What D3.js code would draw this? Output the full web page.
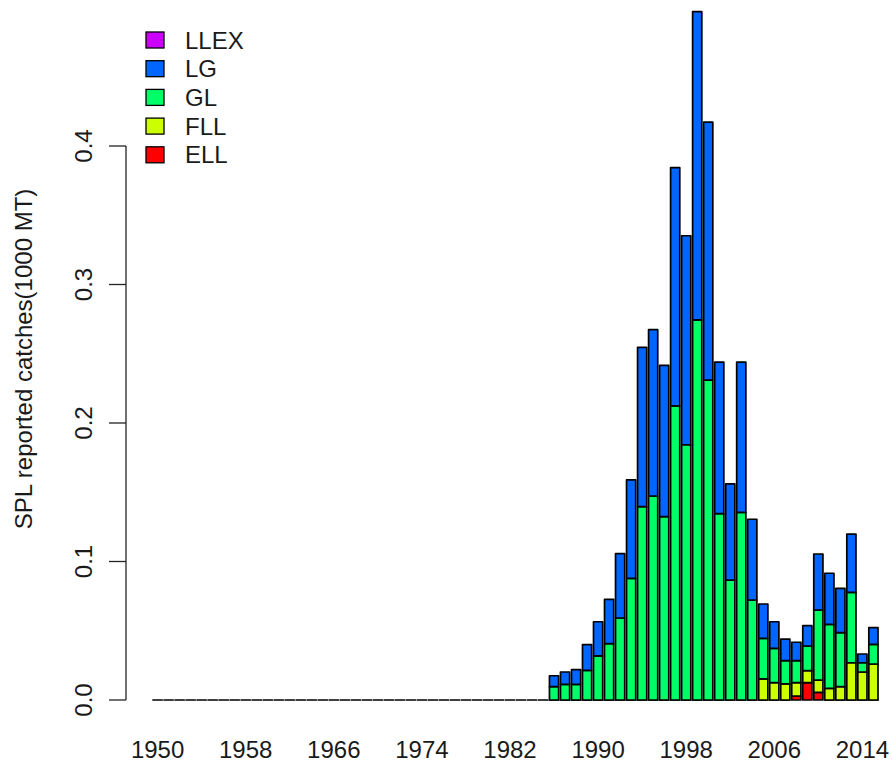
<!DOCTYPE html>
<html>
<head>
<meta charset="utf-8">
<script src="https://cdn.jsdelivr.net/npm/d3@7"></script>
<style>
  body { margin: 0; background: #fff; }
  svg text { font-family: "Liberation Sans", Arial, sans-serif; fill: #1a1a1a; }
</style>
</head>
<body>
<div id="chart"></div>
<script>
// years 1950..2015, catches in 1000 MT
const years = d3.range(1950, 2016)
const keys = ['ELL', 'FLL', 'GL', 'LG', 'LLEX']
const colors = ['#FF0000', '#CCFF00', '#00FF66', '#0066FF', '#CC00FF']
const tickYears = [1950, 1958, 1966, 1974, 1982, 1990, 1998, 2006, 2014]
const yTicks = [0, 0.1, 0.2, 0.3, 0.4]

const ELL = [
  0, 0, 0, 0, 0, 0, 0, 0, 0, 0,
  0, 0, 0, 0, 0, 0, 0, 0, 0, 0,
  0, 0, 0, 0, 0, 0, 0, 0, 0, 0,
  0, 0, 0, 0, 0, 0,
  0, 0, 0, 0, 0, 0, 0, 0, 0, 0,
  0, 0, 0, 0, 0, 0, 0, 0, 0, 0,
  0, 0, 0.0029, 0.0125, 0.0055, 0, 0, 0, 0, 0
]
const FLL = [
  0, 0, 0, 0, 0, 0, 0, 0, 0, 0,
  0, 0, 0, 0, 0, 0, 0, 0, 0, 0,
  0, 0, 0, 0, 0, 0, 0, 0, 0, 0,
  0, 0, 0, 0, 0, 0,
  0, 0, 0, 0, 0, 0, 0, 0, 0, 0,
  0, 0, 0, 0, 0, 0, 0, 0, 0, 0.0152,
  0.0125, 0.0116, 0.0096, 0.0087, 0.0089, 0.0084, 0.0096, 0.0269, 0.0202, 0.026
]
const GL = [
  0, 0, 0, 0, 0, 0, 0, 0, 0, 0,
  0, 0, 0, 0, 0, 0, 0, 0, 0, 0,
  0, 0, 0, 0, 0, 0, 0, 0, 0, 0,
  0, 0, 0, 0, 0, 0,
  0.0096, 0.0113, 0.0113, 0.0214, 0.0318, 0.0407, 0.0592, 0.0878, 0.1396, 0.1473,
  0.1324, 0.2123, 0.1843, 0.2744, 0.231, 0.1345, 0.0866, 0.1355, 0.0722, 0.0293,
  0.0248, 0.0168, 0.0159, 0.0178, 0.0506, 0.0462, 0.039, 0.0508, 0.0067, 0.0142
]
const LG = [
  0, 0, 0, 0, 0, 0, 0, 0, 0, 0,
  0, 0, 0, 0, 0, 0, 0, 0, 0, 0,
  0, 0, 0, 0, 0, 0, 0, 0, 0, 0,
  0, 0, 0, 0, 0, 0,
  0.0079, 0.0089, 0.0106, 0.0186, 0.0247, 0.032, 0.0465, 0.0712, 0.115, 0.1201,
  0.1092, 0.1721, 0.1509, 0.2226, 0.1863, 0.1095, 0.0694, 0.1085, 0.0583, 0.0248,
  0.0192, 0.0156, 0.0133, 0.0147, 0.0404, 0.0369, 0.032, 0.0421, 0.0063, 0.012
]
const LLEX = [
  0, 0, 0, 0, 0, 0, 0, 0, 0, 0,
  0, 0, 0, 0, 0, 0, 0, 0, 0, 0,
  0, 0, 0, 0, 0, 0, 0, 0, 0, 0,
  0, 0, 0, 0, 0, 0,
  0, 0, 0, 0, 0, 0, 0, 0, 0, 0,
  0, 0, 0, 0, 0, 0, 0, 0, 0, 0,
  0, 0, 0, 0, 0, 0, 0, 0, 0, 0
]

const table = years.map(function(y, i) {
  return { year: y, ELL: ELL[i], FLL: FLL[i], GL: GL[i], LG: LG[i], LLEX: LLEX[i] }
})

const width = 892,
      height = 766

const xScale = d3.scaleBand()
                 .domain(years)
                 .range([153, 878])
                 .paddingInner(1 / 6)
                 .paddingOuter(0),

      yScale = d3.scaleLinear()
                 .domain([0, 0.4])
                 .range([700, 146])

const svg = d3.select('#chart')
              .append('svg')
              .attr('width', width)
              .attr('height', height)

svg.append('rect')
   .attr('width', width)
   .attr('height', height)
   .attr('fill', '#fff')

const stacked = d3.stack().keys(keys)(table)

// bars drawn as paths so zero-height segments still show their outline
function barPath(d) {
  const x = xScale(d.data.year),
        w = xScale.bandwidth(),
        y0 = yScale(d[0]),
        y1 = yScale(d[1])
  return 'M' + x + ',' + y0 + 'H' + (x + w) + 'V' + y1 + 'H' + x + 'Z'
}

svg.selectAll('g.layer')
   .data(stacked)
   .enter()
   .append('g')
   .attr('class', 'layer')
   .attr('fill', function(d, i) { return colors[i] })
   .each(function(layer) {
     d3.select(this)
       .selectAll('path')
       // upper layers with nothing in them would only redraw the same outline
       .data(layer.filter(function(d) { return layer.index === 0 || d[1] > d[0] }))
       .enter()
       .append('path')
       .attr('d', barPath)
       .attr('stroke', '#000')
       .attr('stroke-width', 1.7)
       .attr('stroke-linejoin', 'round')
   })

// y axis
const yAxis = svg.append('g').attr('id', 'y-axis')

yAxis.append('line')
     .attr('x1', 126).attr('x2', 126)
     .attr('y1', yScale(0)).attr('y2', yScale(0.4))
     .attr('stroke', '#222').attr('stroke-width', 1.3)

yAxis.selectAll('line.tick')
     .data(yTicks)
     .enter()
     .append('line')
     .attr('class', 'tick')
     .attr('x1', 109).attr('x2', 126)
     .attr('y1', function(d) { return yScale(d) })
     .attr('y2', function(d) { return yScale(d) })
     .attr('stroke', '#222').attr('stroke-width', 1.3)

yAxis.selectAll('text')
     .data(yTicks)
     .enter()
     .append('text')
     .attr('transform', function(d) { return 'translate(92,' + yScale(d) + ') rotate(-90)' })
     .attr('text-anchor', 'middle')
     .attr('font-size', 24)
     .text(function(d) { return d.toFixed(1) })

svg.append('text')
   .attr('transform', 'translate(32,' + 359 + ') rotate(-90)')
   .attr('text-anchor', 'middle')
   .attr('font-size', 24)
   .text('SPL reported catches(1000 MT)')

// x labels
svg.selectAll('text.xlab')
   .data(tickYears)
   .enter()
   .append('text')
   .attr('class', 'xlab')
   .attr('x', function(d) { return xScale(d) + xScale.bandwidth() / 2 })
   .attr('y', 758)
   .attr('text-anchor', 'middle')
   .attr('font-size', 24)
   .text(function(d) { return d })

// legend, top to bottom LLEX..ELL
const legendKeys = keys.slice().reverse(),
      legendColors = colors.slice().reverse()

const legend = svg.selectAll('g.legend')
                  .data(legendKeys)
                  .enter()
                  .append('g')
                  .attr('class', 'legend')
                  .attr('transform', function(d, i) { return 'translate(0,' + (40 + i * 28.7) + ')' })

legend.append('rect')
      .attr('x', 146).attr('y', -8)
      .attr('width', 18).attr('height', 16)
      .attr('fill', function(d, i) { return legendColors[i] })
      .attr('stroke', '#000')
      .attr('stroke-width', 1.3)

legend.append('text')
      .attr('x', 185)
      .attr('y', 8.5)
      .attr('font-size', 24)
      .text(function(d) { return d })
</script>
</body>
</html>
